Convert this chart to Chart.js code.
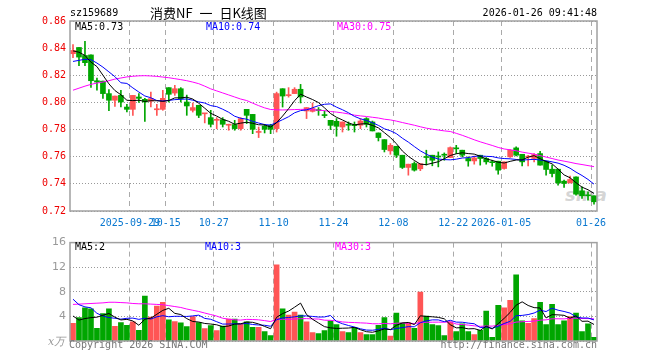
<!DOCTYPE html>
<html><head><meta charset="utf-8">
<script src="https://cdn.jsdelivr.net/npm/chart.js@4.4.1/dist/chart.umd.min.js"></script>
<style>
html,body{margin:0;padding:0;background:#fff;}
#wrap{position:relative;width:660px;height:360px;overflow:hidden;font-family:"DejaVu Sans Mono",monospace;font-size:10px;}
.t{position:absolute;white-space:pre;line-height:10px;}
canvas{position:absolute;left:0;}
</style></head><body>
<div id="wrap">
<div class="t" style="left:565px;top:186px;font:italic bold 18px 'DejaVu Sans',sans-serif;color:rgba(160,160,160,0.45);line-height:18px;">sina</div>
<canvas id="pc" width="660" height="232" style="top:0;width:660px;height:232px"></canvas>
<canvas id="vc" width="660" height="128" style="top:232px;width:660px;height:128px"></canvas>
<div class="t" style="left:70px;top:8px;color:#000;">sz159689</div>
<div class="t" style="left:150px;top:6px;color:#000;font:13px 'Noto Sans CJK SC',sans-serif;line-height:14px;word-spacing:4px;">消费NF 一 日K线图</div>
<div class="t" style="right:63px;top:8px;color:#000;">2026-01-26 09:41:48</div>
<div class="t" style="left:75px;top:22px;color:#000;">MA5:0.73</div>
<div class="t" style="left:206px;top:22px;color:#0000ff;">MA10:0.74</div>
<div class="t" style="left:337px;top:22px;color:#ff00ff;">MA30:0.75</div>
<div class="t" style="left:75px;top:242px;color:#000;">MA5:2</div>
<div class="t" style="left:205px;top:242px;color:#0000ff;">MA10:3</div>
<div class="t" style="left:335px;top:242px;color:#ff00ff;">MA30:3</div>
<div class="t" style="left:48px;top:336px;color:#999;font:italic 11px 'DejaVu Serif',serif;line-height:11px;">x万</div>
<div class="t" style="left:69px;top:340px;color:#777;">Copyright 2026 SINA.COM</div>
<div class="t" style="right:63px;top:340px;color:#777;">http://finance.sina.com.cn</div>
</div>
<script>
const dates = [
'2025-09-15','2025-09-16','2025-09-17','2025-09-18','2025-09-19','2025-09-22','2025-09-23','2025-09-24','2025-09-25','2025-09-26',
'2025-09-29','2025-09-30','2025-10-09','2025-10-10','2025-10-13','2025-10-14','2025-10-15','2025-10-16','2025-10-17','2025-10-20',
'2025-10-21','2025-10-22','2025-10-23','2025-10-24','2025-10-27','2025-10-28','2025-10-29','2025-10-30','2025-10-31','2025-11-03',
'2025-11-04','2025-11-05','2025-11-06','2025-11-07','2025-11-10','2025-11-11','2025-11-12','2025-11-13','2025-11-14','2025-11-17',
'2025-11-18','2025-11-19','2025-11-20','2025-11-21','2025-11-24','2025-11-25','2025-11-26','2025-11-27','2025-11-28','2025-12-01',
'2025-12-02','2025-12-03','2025-12-04','2025-12-05','2025-12-08','2025-12-09','2025-12-10','2025-12-11','2025-12-12','2025-12-15',
'2025-12-16','2025-12-17','2025-12-18','2025-12-19','2025-12-22','2025-12-23','2025-12-24','2025-12-25','2025-12-26','2025-12-29',
'2025-12-30','2025-12-31','2026-01-05','2026-01-06','2026-01-07','2026-01-08','2026-01-09','2026-01-12','2026-01-13','2026-01-14',
'2026-01-15','2026-01-16','2026-01-19','2026-01-20','2026-01-21','2026-01-22','2026-01-23','2026-01-26'];

const open = [0.8359,0.8405,0.8346,0.8350,0.8160,0.8157,0.8065,0.8016,0.8052,0.7966,
0.7949,0.8040,0.8023,0.8010,0.7946,0.7949,0.8109,0.8069,0.8101,0.8003,
0.7942,0.7979,0.7916,0.7888,0.7868,0.7873,0.7832,0.7837,0.7807,0.7949,
0.7912,0.7779,0.7826,0.7831,0.7807,0.8101,0.8050,0.8065,0.8097,0.7937,
0.7934,0.7944,0.7907,0.7868,0.7861,0.7819,0.7835,0.7832,0.7832,0.7881,
0.7856,0.7775,0.7726,0.7643,0.7677,0.7611,0.7521,0.7550,0.7511,0.7597,
0.7611,0.7601,0.7613,0.7594,0.7662,0.7648,0.7587,0.7569,0.7611,0.7587,
0.7559,0.7567,0.7513,0.7599,0.7665,0.7618,0.7597,0.7587,0.7623,0.7567,
0.7508,0.7508,0.7420,0.7407,0.7451,0.7349,0.7314,0.7312];
const high = [0.8427,0.8405,0.8450,0.8350,0.8180,0.8157,0.8094,0.8047,0.8090,0.7986,
0.8052,0.8065,0.8030,0.8076,0.7986,0.8089,0.8109,0.8126,0.8109,0.8054,
0.7996,0.7979,0.7918,0.7942,0.7888,0.7888,0.7840,0.7868,0.7888,0.7949,
0.7912,0.7819,0.7839,0.7839,0.8076,0.8101,0.8109,0.8109,0.8133,0.7962,
0.7996,0.7962,0.7937,0.7868,0.7881,0.7856,0.7856,0.7856,0.7881,0.7888,
0.7863,0.7775,0.7726,0.7697,0.7677,0.7611,0.7545,0.7562,0.7548,0.7648,
0.7611,0.7635,0.7628,0.7672,0.7684,0.7648,0.7599,0.7604,0.7611,0.7594,
0.7574,0.7567,0.7562,0.7653,0.7672,0.7618,0.7611,0.7623,0.7640,0.7567,
0.7538,0.7508,0.7427,0.7457,0.7451,0.7378,0.7341,0.7312];
const low = [0.8329,0.8270,0.8270,0.8110,0.8090,0.8030,0.7940,0.7970,0.7966,0.7930,
0.7905,0.8000,0.7860,0.7966,0.7905,0.7942,0.8003,0.8052,0.8003,0.7905,
0.7929,0.7888,0.7849,0.7819,0.7806,0.7819,0.7795,0.7795,0.7795,0.7844,
0.7770,0.7741,0.7775,0.7770,0.7782,0.7966,0.8039,0.8065,0.7996,0.7881,
0.7929,0.7905,0.7888,0.7800,0.7751,0.7782,0.7795,0.7782,0.7807,0.7819,
0.7790,0.7716,0.7635,0.7618,0.7594,0.7513,0.7464,0.7494,0.7497,0.7538,
0.7533,0.7525,0.7574,0.7594,0.7623,0.7599,0.7530,0.7545,0.7538,0.7545,
0.7530,0.7471,0.7508,0.7594,0.7606,0.7533,0.7533,0.7562,0.7538,0.7464,
0.7452,0.7390,0.7374,0.7407,0.7317,0.7293,0.7280,0.7251];
const close = [0.8383,0.8334,0.8293,0.8160,0.8150,0.8065,0.8016,0.8047,0.8003,0.7949,
0.8052,0.8030,0.8003,0.8028,0.7949,0.8030,0.8060,0.8101,0.8028,0.7974,
0.7962,0.7905,0.7918,0.7839,0.7873,0.7839,0.7837,0.7807,0.7881,0.7905,
0.7802,0.7782,0.7802,0.7802,0.8065,0.8047,0.8053,0.8097,0.8040,0.7962,
0.7955,0.7940,0.7903,0.7831,0.7824,0.7856,0.7832,0.7829,0.7863,0.7839,
0.7790,0.7741,0.7653,0.7684,0.7611,0.7521,0.7545,0.7501,0.7548,0.7594,
0.7574,0.7598,0.7611,0.7667,0.7658,0.7611,0.7569,0.7591,0.7587,0.7562,
0.7556,0.7501,0.7562,0.7648,0.7611,0.7562,0.7601,0.7616,0.7538,0.7506,
0.7476,0.7407,0.7403,0.7432,0.7324,0.7312,0.7312,0.7268];
// volume, in 万 (10k) shares
const volume = [2.86,3.8,5.4,5.24,2.06,4.44,5.24,2.38,3.0,2.54,
3.12,1.75,7.3,3.9,5.66,6.3,3.44,3.17,2.96,2.33,
3.97,3.0,2.0,2.5,1.7,2.43,3.55,3.55,2.75,3.12,
2.22,2.22,1.53,0.9,12.4,5.24,4.23,4.7,4.23,3.12,
1.38,1.22,1.7,3.28,2.65,1.53,1.38,2.22,1.38,1.06,
1.06,2.54,3.8,0.8,4.55,2.96,2.96,2.06,7.94,4.07,
2.65,2.49,0.9,3.12,1.53,2.8,1.53,1.06,1.75,4.87,
0.58,5.82,5.4,6.6,10.74,3.28,2.86,3.65,6.3,2.65,
5.98,2.65,3.3,3.97,4.55,1.53,2.8,0.58];
// moving-average values before enough bars are visible
const ma5Head = [0.838,0.837,0.8346,0.8297];
const ma10Head = [0.8302,0.831,0.8318,0.8315,0.829,0.826,0.8225,0.819,0.8145];
const ma30Head = [0.809,0.8105,0.812,0.8133,0.8143,0.815,0.816,0.8172,0.818,0.8188,0.8193,0.8196,0.8197,0.8195,0.8192,0.8187,0.8182,0.8175,0.8168,0.816,0.815,0.8138,0.812,0.81,0.8085,0.807,0.8055,0.804,0.8025];
const vma5Head = [4.07,3.4,3.65,3.8];
const vma10Head = [6.8,5.9,5.55,5.4,4.5,4.07,3.8,3.7,3.55];
const vma30Head = [5.95,6.0,6.05,6.1,6.15,6.2,6.3,6.3,6.25,6.2,6.1,6.05,6.05,6.0,5.95,5.9,5.75,5.6,5.45,5.2,5.0,4.8,4.55,4.3,4.05,3.7,3.55,3.45,3.4];
// x tick labels
const tickDates = ['2025-09-29','2025-10-15','2025-10-27','2025-11-10','2025-11-24','2025-12-08','2025-12-22','2026-01-05','2026-01-26'];
const tickTexts = ['2025-09-29','10-15','10-27','11-10','11-24','12-08','12-22','2026-01-05','01-26'];
const priceTicks = [0.72,0.74,0.76,0.78,0.80,0.82,0.84,0.86];
const volTicks = [0,4,8,12,16];

const RED = '#ff5555', GREEN = '#00a600';
const colors = open.map((o,i)=> close[i] >= o ? RED : GREEN);
function sma(vals, n, head){
  return vals.map((v,i)=>{
    if (i < n-1) return head[i];
    let s = 0; for (let k=i-n+1;k<=i;k++) s += vals[k];
    return s/n;
  });
}
const tickIdx = {};
tickDates.forEach((d,k)=>{ tickIdx[dates.indexOf(d)] = tickTexts[k]; });

const frame = {
  id:'frame',
  afterDraw(chart){
    const a = chart.chartArea, c = chart.ctx;
    c.save(); c.strokeStyle = '#a0a0a0'; c.lineWidth = 1.5;
    c.strokeRect(a.left, a.top, a.right-a.left, a.bottom-a.top);
    c.restore();
  }
};
const monoFont = {family:'DejaVu Sans Mono', size:10};
function xScale(showLabels, h){
  return {
    type:'category', offset:true,
    grid:{offset:true, drawTicks:false, lineWidth:1,
      color: ctx => (tickIdx[ctx.index] !== undefined) ? '#aaaaaa' : 'rgba(0,0,0,0)'},
    border:{display:false, dash:[5,4]},
    ticks:{display:showLabels, autoSkip:false, maxRotation:0, minRotation:0, padding:6, labelOffset:-3,
      color:'#0a78d0', font:monoFont,
      callback:(v,i)=> tickIdx[i] !== undefined ? tickIdx[i] : ''},
    afterFit(s){ s.height = h; }
  };
}
Chart.defaults.animation = false;
new Chart(document.getElementById('pc'), {
  type:'bar',
  data:{ labels: dates, datasets:[
    {type:'line', data: sma(close,5,ma5Head), borderColor:'#000', borderWidth:1, pointRadius:0, order:0},
    {type:'line', data: sma(close,10,ma10Head), borderColor:'#0000ff', borderWidth:1, pointRadius:0, order:0},
    {type:'line', data: sma(close,30,ma30Head), borderColor:'#ff00ff', borderWidth:1, pointRadius:0, order:0},
    {type:'bar', data: open.map((o,i)=>[o, close[i]]), backgroundColor: colors, barThickness:5, grouped:false, minBarLength:1, order:1},
    {type:'bar', data: low.map((l,i)=>[l, high[i]]), backgroundColor: colors, barThickness:1, grouped:false, order:2}
  ]},
  options:{
    responsive:false, animation:false, devicePixelRatio:1,
    layout:{padding:{left:0,right:63,top:21,bottom:0}},
    plugins:{legend:{display:false}, tooltip:{enabled:false}},
    scales:{
      x: xScale(true, 21),
      y:{ min:0.72, max:0.86, afterBuildTicks(s){ s.ticks = priceTicks.map(v=>({value:v})); },
        grid:{drawTicks:false, color:'#999', lineWidth:1}, border:{display:false, dash:[1,2]},
        ticks:{color:'#ee0000', font:monoFont, padding:4, callback:v=>Number(v).toFixed(2)},
        afterFit(s){ s.width = 70; } }
    }
  },
  plugins:[frame]
});
new Chart(document.getElementById('vc'), {
  type:'bar',
  data:{ labels: dates, datasets:[
    {type:'line', data: sma(volume,5,vma5Head), borderColor:'#000', borderWidth:1, pointRadius:0, order:0},
    {type:'line', data: sma(volume,10,vma10Head), borderColor:'#0000ff', borderWidth:1, pointRadius:0, order:0},
    {type:'line', data: sma(volume,30,vma30Head), borderColor:'#ff00ff', borderWidth:1, pointRadius:0, order:0},
    {type:'bar', data: volume, backgroundColor: colors, barThickness:5, grouped:false, order:1}
  ]},
  options:{
    responsive:false, animation:false, devicePixelRatio:1,
    layout:{padding:{left:0,right:63,top:8,bottom:0}},
    plugins:{legend:{display:false}, tooltip:{enabled:false}},
    scales:{
      x: xScale(false, 19),
      y:{ min:0, max:16, afterBuildTicks(s){ s.ticks = volTicks.map(v=>({value:v})); },
        grid:{drawTicks:false, color:'#999', lineWidth:1}, border:{display:false, dash:[1,2]},
        ticks:{color:'#999', font:{family:'DejaVu Sans', size:11}, padding:4, callback:v=> v===0 ? '' : String(v)},
        afterFit(s){ s.width = 70; } }
    }
  },
  plugins:[frame]
});
</script>
</body></html>
